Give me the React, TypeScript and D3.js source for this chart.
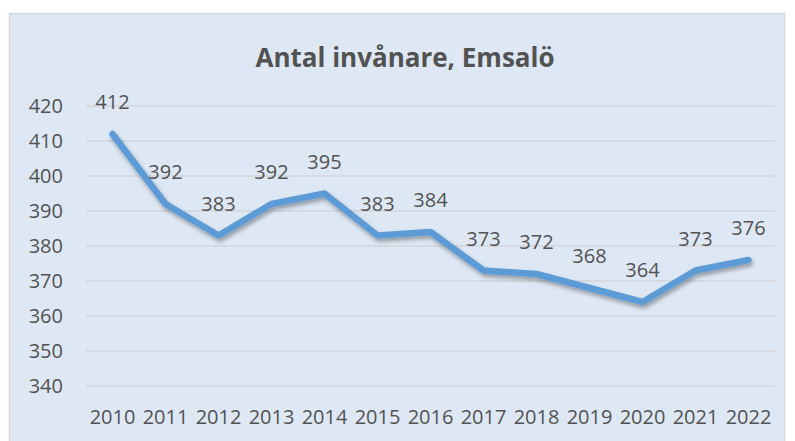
import { useEffect, useRef } from 'react';
import * as d3 from 'd3';

const width = 795;
const height = 441;
const [mt, mr, mb, ml] = [106, 20, 55, 86];

const years = ['2010', '2011', '2012', '2013', '2014', '2015', '2016', '2017', '2018', '2019', '2020', '2021', '2022'];
const residents = [412, 392, 383, 392, 395, 383, 384, 373, 372, 368, 364, 373, 376];
const yTicks = [340, 350, 360, 370, 380, 390, 400, 410, 420];

const title = 'Antal invånare, Emsalö';
const font = '"Open Sans", "Liberation Sans", sans-serif';
const textColor = '#525252';

export default function App() {
    const ref = useRef<SVGSVGElement>(null);

    useEffect(() => {
        const svg = d3.select(ref.current);
        svg.selectAll('*').remove();

        const gw = 775 - ml;
        const gh = 386 - mt;

        // chart area box
        svg.append('rect')
            .attr('x', 9.5)
            .attr('y', 13.5)
            .attr('width', 775)
            .attr('height', 440)
            .attr('fill', '#dee8f4')
            .attr('stroke', '#d6d6d6')
            .attr('stroke-width', 1.5);

        const defs = svg.append('defs');
        defs.append('filter')
            .attr('id', 'shadow')
            .attr('x', '-10%').attr('y', '-10%').attr('width', '120%').attr('height', '130%')
            .append('feDropShadow')
            .attr('dx', 1.5).attr('dy', 3).attr('stdDeviation', 2)
            .attr('flood-color', '#000').attr('flood-opacity', 0.35);

        svg.append('text')
            .attr('x', 405)
            .attr('y', 67)
            .attr('text-anchor', 'middle')
            .attr('font-family', font)
            .attr('font-weight', 'bold')
            .attr('font-size', 26)
            .attr('fill', textColor)
            .text(title);

        const x = d3.scaleBand().domain(years).range([0, gw]);
        const y = d3.scaleLinear().domain([340, 420]).range([gh, 0]);

        const g = svg.append('g').attr('transform', `translate(${ml}, ${mt})`);

        // gridlines
        g.selectAll('.grid')
            .data(yTicks)
            .join('line')
            .attr('x1', 0)
            .attr('x2', gw)
            .attr('y1', (d) => y(d))
            .attr('y2', (d) => y(d))
            .attr('stroke', '#d3d6da')
            .attr('stroke-width', 1.5);

        // y labels
        g.selectAll('.ylab')
            .data(yTicks)
            .join('text')
            .attr('x', -23)
            .attr('y', (d) => y(d))
            .attr('dy', '0.36em')
            .attr('text-anchor', 'end')
            .attr('font-family', font)
            .attr('font-size', 20)
            .attr('fill', textColor)
            .text((d) => d);

        // x labels
        g.selectAll('.xlab')
            .data(years)
            .join('text')
            .attr('x', (d) => (x(d) ?? 0) + x.bandwidth() / 2)
            .attr('y', gh + 31)
            .attr('dy', '0.36em')
            .attr('text-anchor', 'middle')
            .attr('font-family', font)
            .attr('font-size', 20)
            .attr('fill', textColor)
            .text((d) => d);

        const line = d3
            .line<number>()
            .x((_d, i) => (x(years[i]) ?? 0) + x.bandwidth() / 2)
            .y((d) => y(d));

        g.append('path')
            .datum(residents)
            .attr('d', line)
            .attr('fill', 'none')
            .attr('stroke', '#5b9bd5')
            .attr('stroke-width', 6.5)
            .attr('stroke-linejoin', 'round')
            .attr('stroke-linecap', 'round')
            .attr('filter', 'url(#shadow)');

        // data labels
        g.selectAll('.dlab')
            .data(residents)
            .join('text')
            .attr('x', (_d, i) => (x(years[i]) ?? 0) + x.bandwidth() / 2)
            .attr('y', (d) => y(d) - 32)
            .attr('dy', '0.36em')
            .attr('text-anchor', 'middle')
            .attr('font-family', font)
            .attr('font-size', 20)
            .attr('fill', textColor)
            .text((d) => d);
    }, []);

    return (
        <div style={{ position: 'fixed', top: 0, left: 0, width, height, background: '#fff' }}>
            <svg ref={ref} width={width} height={height} style={{ display: 'block' }} />
        </div>
    );
}
